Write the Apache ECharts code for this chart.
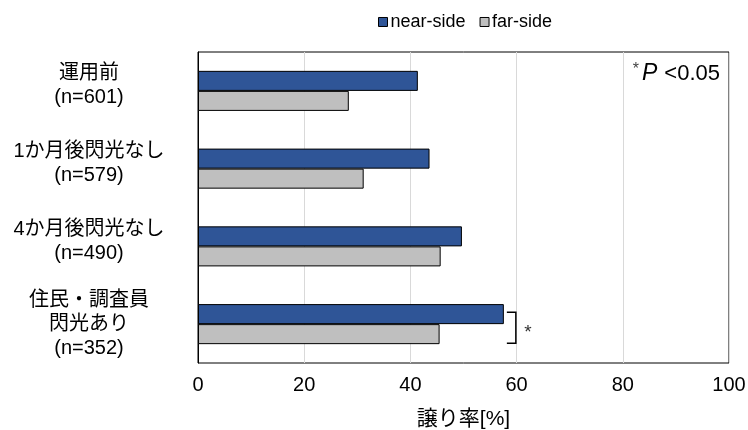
<!DOCTYPE html>
<html><head><meta charset="utf-8">
<script src="https://cdn.jsdelivr.net/npm/echarts@6/dist/echarts.min.js"></script>
<style>html,body{margin:0;padding:0;background:#fff}#c{width:748px;height:430px}</style>
</head><body><div id="c"></div>
<script>
const categories = ['運用前\n(n=601)', '1か月後閃光なし\n(n=579)', '4か月後閃光なし\n(n=490)', '住民・調査員\n閃光あり\n(n=352)'];
const nearSide = [41.4, 43.6, 49.7, 57.6];
const farSide = [28.4, 31.2, 45.7, 45.5];
const xTicks = [0, 20, 40, 60, 80, 100];
const sigIndex = 3;

const FONT = '"Liberation Sans", Arial, "Noto Sans CJK JP", sans-serif';
const chart = echarts.init(document.getElementById('c'), null, {renderer: 'canvas'});
chart.setOption({
  animation: false,
  textStyle: {fontFamily: FONT, color: '#000'},
  legend: {
    top: 8, left: 373, itemWidth: 9, itemHeight: 9, itemGap: 14,
    textStyle: {fontSize: 18, color: '#000', fontFamily: FONT, padding: [0, 0, 0, -2]},
    icon: 'rect',
    data: [
      {name: 'near-side', itemStyle: {color: '#2f5597', borderColor: '#000', borderWidth: 1}},
      {name: 'far-side', itemStyle: {color: '#bfbfbf', borderColor: '#000', borderWidth: 1}}
    ]
  },
  grid: {left: 198, right: 19, top: 52, bottom: 67, show: true, borderColor: '#000', borderWidth: 1,
    containLabel: false, outerBoundsMode: 'none'},
  xAxis: {
    type: 'value', min: 0, max: 100, interval: 20,
    axisLine: {show: false}, axisTick: {show: false},
    splitLine: {show: true, lineStyle: {color: '#d9d9d9', width: 1}},
    axisLabel: {fontSize: 20, color: '#000', margin: 12, fontFamily: FONT,
      formatter: v => xTicks.includes(v) ? String(v) : ''},
    name: '譲り率[%]', nameLocation: 'middle', nameGap: 46,
    nameTextStyle: {fontSize: 21, color: '#000', fontFamily: FONT}
  },
  yAxis: {
    type: 'category', data: categories, inverse: true,
    axisLine: {show: true, lineStyle: {color: '#000', width: 1}},
    axisTick: {show: false},
    axisLabel: {
      fontSize: 20, color: '#000', align: 'center', margin: 109, lineHeight: 24, fontFamily: FONT,
      formatter: function (v) {
        const lines = v.split('\n').map(s => '{t|' + s + '}');
        if (lines.length === 2) lines.push('{s|}');
        return lines.join('\n');
      },
      rich: {
        t: {fontSize: 20, lineHeight: 24, color: '#000', fontFamily: FONT},
        s: {fontSize: 10, lineHeight: 10}
      }
    }
  },
  series: [
    {name: 'near-side', type: 'bar', data: nearSide, barGap: '0%', barCategoryGap: '48.5%',
      itemStyle: {color: '#2f5597', borderColor: '#000', borderWidth: 1}},
    {name: 'far-side', type: 'bar', data: farSide, barGap: '0%', barCategoryGap: '48.5%',
      itemStyle: {color: '#bfbfbf', borderColor: '#000', borderWidth: 1}},
    {
      name: 'sig', type: 'custom', silent: true, z: 5,
      data: [[nearSide[sigIndex], sigIndex]],
      renderItem: function (params, api) {
        const p = api.coord([api.value(0), api.value(1)]);
        const x = p[0] + 3;
        const x2 = x + 9;
        const y1 = p[1] - 12, y2 = p[1] + 19;
        return {
          type: 'group',
          children: [
            {type: 'polyline', shape: {points: [[x, y1], [x2, y1], [x2, y2], [x, y2]]},
              style: {stroke: '#000', lineWidth: 1.5, fill: null}},
            {type: 'text', style: {text: '*', x: x2 + 12, y: p[1] + 9, fontSize: 19, fill: '#333',
              align: 'center', verticalAlign: 'middle', fontFamily: FONT}}
          ]
        };
      }
    }
  ],
  graphic: [
    {type: 'text', right: 28, top: 62,
      style: {
        text: '{a|*}{p|P}{b|<0.05}',
        rich: {
          a: {fontSize: 16, fill: '#444', verticalAlign: 'top', padding: [0, 3, 8, 0], fontFamily: FONT},
          p: {fontSize: 23, fontStyle: 'italic', fill: '#000', fontFamily: FONT, padding: [0, 7, 0, 0]},
          b: {fontSize: 22, fill: '#000', fontFamily: FONT}
        }
      }}
  ]
});
</script></body></html>
